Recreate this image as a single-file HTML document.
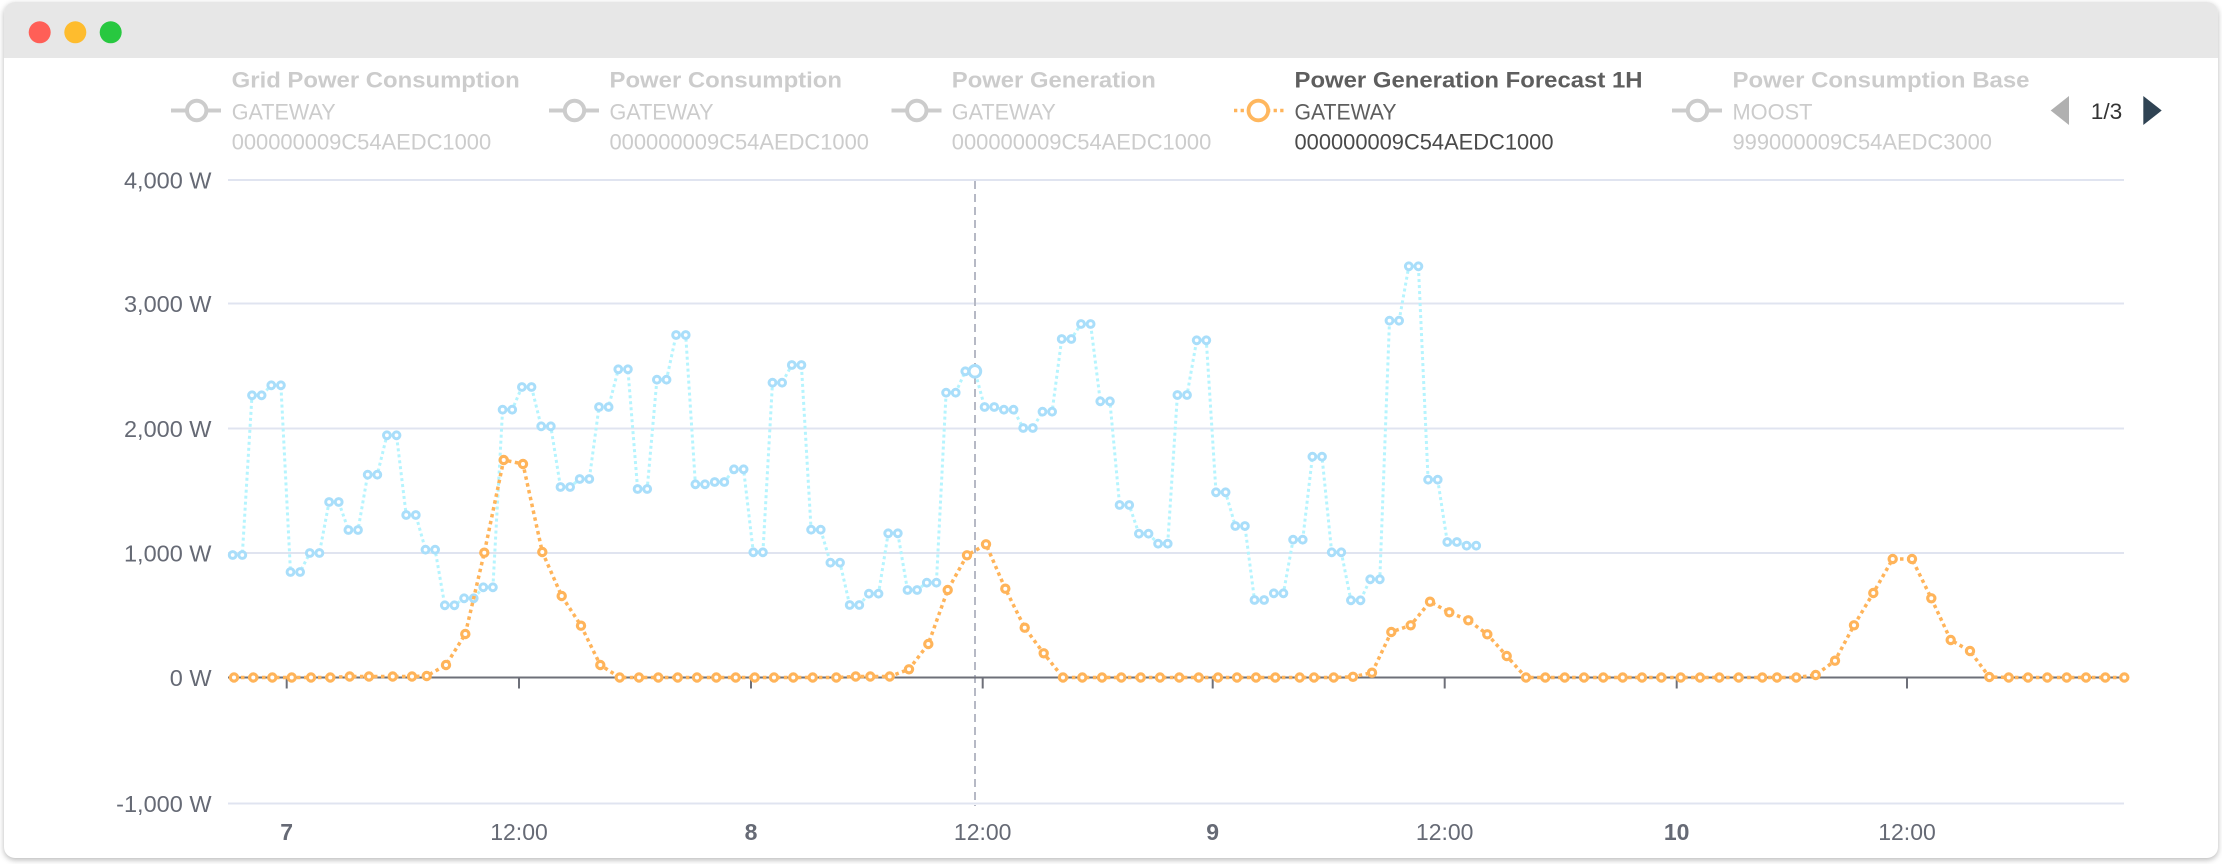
<!DOCTYPE html>
<html>
<head>
<meta charset="utf-8">
<style>
  html,body{margin:0;padding:0;background:#ffffff;}
  body{width:2222px;height:864px;position:relative;overflow:hidden;font-family:"Liberation Sans",Arial,sans-serif;}
  .win{position:absolute;left:4px;top:2px;width:2214px;height:856px;border-radius:11px;background:#fff;box-shadow:0 2px 6px rgba(0,0,0,0.28);overflow:hidden;}
  .bar{position:absolute;left:0;top:0;width:100%;height:56px;background:#e7e7e7;}
  svg{position:absolute;left:0;top:0;}
</style>
</head>
<body>
<div class="win"><div class="bar"></div></div>
<svg width="2222" height="864" viewBox="0 0 2222 864" xmlns="http://www.w3.org/2000/svg">
  <defs>
    <marker id="mb" markerWidth="16" markerHeight="16" refX="8" refY="8" markerUnits="userSpaceOnUse">
      <circle cx="8" cy="8" r="3.4" fill="#ffffff" stroke="#a9defa" stroke-width="3"/>
    </marker>
    <marker id="mo" markerWidth="16" markerHeight="16" refX="8" refY="8" markerUnits="userSpaceOnUse">
      <circle cx="8" cy="8" r="3.6" fill="#ffffff" stroke="#ffb45a" stroke-width="3.2"/>
    </marker>
  </defs>

  <!-- traffic lights -->
  <circle cx="39.7" cy="32.3" r="11" fill="#ff5f57"/>
  <circle cx="75.3" cy="32.3" r="11" fill="#febc2e"/>
  <circle cx="110.7" cy="32.3" r="11" fill="#28c840"/>

  <!-- legend -->
  <g font-family="Liberation Sans, Arial, sans-serif" font-size="22">
    <!-- item 1 -->
    <line x1="171" y1="110.5" x2="221" y2="110.5" stroke="#cccccc" stroke-width="4"/>
    <circle cx="196.7" cy="110.5" r="9.7" fill="#fff" stroke="#cccccc" stroke-width="4"/>
    <text x="231.7" y="87.5" font-weight="bold" fill="#cccccc" textLength="288" lengthAdjust="spacingAndGlyphs">Grid Power Consumption</text>
    <text x="231.7" y="119.3" fill="#cccccc" textLength="104" lengthAdjust="spacingAndGlyphs">GATEWAY</text>
    <text x="231.7" y="149.5" fill="#cccccc" textLength="259.5" lengthAdjust="spacingAndGlyphs">000000009C54AEDC1000</text>
    <!-- item 2 -->
    <line x1="549" y1="110.5" x2="599" y2="110.5" stroke="#cccccc" stroke-width="4"/>
    <circle cx="574.5" cy="110.5" r="9.7" fill="#fff" stroke="#cccccc" stroke-width="4"/>
    <text x="609.5" y="87.5" font-weight="bold" fill="#cccccc" textLength="232.5" lengthAdjust="spacingAndGlyphs">Power Consumption</text>
    <text x="609.5" y="119.3" fill="#cccccc" textLength="104" lengthAdjust="spacingAndGlyphs">GATEWAY</text>
    <text x="609.5" y="149.5" fill="#cccccc" textLength="259.5" lengthAdjust="spacingAndGlyphs">000000009C54AEDC1000</text>
    <!-- item 3 -->
    <line x1="891.5" y1="110.5" x2="941.5" y2="110.5" stroke="#cccccc" stroke-width="4"/>
    <circle cx="916.8" cy="110.5" r="9.7" fill="#fff" stroke="#cccccc" stroke-width="4"/>
    <text x="951.8" y="87.5" font-weight="bold" fill="#cccccc" textLength="204" lengthAdjust="spacingAndGlyphs">Power Generation</text>
    <text x="951.8" y="119.3" fill="#cccccc" textLength="104" lengthAdjust="spacingAndGlyphs">GATEWAY</text>
    <text x="951.8" y="149.5" fill="#cccccc" textLength="259.5" lengthAdjust="spacingAndGlyphs">000000009C54AEDC1000</text>
    <!-- item 4 (active) -->
    <line x1="1234" y1="110.5" x2="1283.5" y2="110.5" stroke="#ffb45a" stroke-width="3.5" stroke-dasharray="3.3 3.3"/>
    <circle cx="1258.3" cy="110.5" r="9.8" fill="#fff" stroke="#ffb75e" stroke-width="3.8"/>
    <text x="1294.5" y="87.5" font-weight="bold" fill="#5e5e5e" textLength="348" lengthAdjust="spacingAndGlyphs">Power Generation Forecast 1H</text>
    <text x="1294.5" y="119.3" fill="#5e5e5e" textLength="102" lengthAdjust="spacingAndGlyphs">GATEWAY</text>
    <text x="1294.5" y="149.5" fill="#4a4a4a" textLength="259" lengthAdjust="spacingAndGlyphs">000000009C54AEDC1000</text>
    <!-- item 5 -->
    <line x1="1672" y1="110.5" x2="1722" y2="110.5" stroke="#cccccc" stroke-width="4"/>
    <circle cx="1697.5" cy="110.5" r="9.7" fill="#fff" stroke="#cccccc" stroke-width="4"/>
    <text x="1732.5" y="87.5" font-weight="bold" fill="#cccccc" textLength="297" lengthAdjust="spacingAndGlyphs">Power Consumption Base</text>
    <text x="1732.5" y="119.3" fill="#cccccc" textLength="80" lengthAdjust="spacingAndGlyphs">MOOST</text>
    <text x="1732.5" y="149.5" fill="#cccccc" textLength="259.5" lengthAdjust="spacingAndGlyphs">999000009C54AEDC3000</text>
    <!-- pagination -->
    <polygon points="2050.7,110.5 2069,96 2069,125" fill="#b0b0b0"/>
    <text x="2090.7" y="119" fill="#333333" font-size="22.5" textLength="31.6" lengthAdjust="spacingAndGlyphs">1/3</text>
    <polygon points="2143.3,96 2143.3,125 2161.7,110.5" fill="#2f4353"/>
  </g>

  <!-- grid -->
  <g stroke="#e0e4f0" stroke-width="2">
    <line x1="228" y1="180" x2="2124" y2="180"/>
    <line x1="228" y1="303.5" x2="2124" y2="303.5"/>
    <line x1="228" y1="428.5" x2="2124" y2="428.5"/>
    <line x1="228" y1="553" x2="2124" y2="553"/>
    <line x1="228" y1="803.5" x2="2124" y2="803.5"/>
  </g>

  <!-- y labels -->
  <g font-family="Liberation Sans, Arial, sans-serif" font-size="23.5" fill="#666a75" text-anchor="end">
    <text x="211.5" y="188.4">4,000 W</text>
    <text x="211.5" y="311.9">3,000 W</text>
    <text x="211.5" y="436.9">2,000 W</text>
    <text x="211.5" y="561.4">1,000 W</text>
    <text x="211.5" y="685.9">0 W</text>
    <text x="211.5" y="811.9">-1,000 W</text>
  </g>

  <!-- crosshair -->
  <line x1="975" y1="181" x2="975" y2="806" stroke="#b6b9c5" stroke-width="2" stroke-dasharray="8 5"/>

  <!-- zero axis + ticks -->
  <line x1="228" y1="677.5" x2="2124" y2="677.5" stroke="#6e7079" stroke-width="2"/>
  <g stroke="#6e7079" stroke-width="2">
    <line x1="286.7" y1="677.5" x2="688" y2="688" transform="translate(0,0)" style="display:none"/>
    <line x1="286.7" y1="677.5" x2="286.7" y2="688.5"/>
    <line x1="519" y1="677.5" x2="519" y2="688.5"/>
    <line x1="751" y1="677.5" x2="751" y2="688.5"/>
    <line x1="982.7" y1="677.5" x2="982.7" y2="688.5"/>
    <line x1="1212.7" y1="677.5" x2="1212.7" y2="688.5"/>
    <line x1="1444.7" y1="677.5" x2="1444.7" y2="688.5"/>
    <line x1="1676.7" y1="677.5" x2="1676.7" y2="688.5"/>
    <line x1="1907" y1="677.5" x2="1907" y2="688.5"/>
  </g>

  <!-- x labels -->
  <g font-family="Liberation Sans, Arial, sans-serif" font-size="23" fill="#666a75" text-anchor="middle">
    <text x="286.7" y="840" font-weight="bold">7</text>
    <text x="519" y="840">12:00</text>
    <text x="751" y="840" font-weight="bold">8</text>
    <text x="982.7" y="840">12:00</text>
    <text x="1212.7" y="840" font-weight="bold">9</text>
    <text x="1444.7" y="840">12:00</text>
    <text x="1676.7" y="840" font-weight="bold">10</text>
    <text x="1907" y="840">12:00</text>
  </g>

  <!-- blue series -->
  <polyline fill="none" stroke="#b5f4fe" stroke-width="3" stroke-dasharray="3 3"
    marker-start="url(#mb)" marker-mid="url(#mb)" marker-end="url(#mb)"
    points="232.7,555 242.3,555 252,395.3 261.6,395.3 271.3,385.3 280.9,385.3 290.5,572 300.1,572 309.8,553 319.4,553 329.1,502 338.7,502 348.4,530 358,530 367.7,474.7 377.3,474.7 386.9,435.3 396.5,435.3 406.2,515 415.8,515 425.5,549.7 435.1,549.7 444.8,605.3 454.4,605.3 464.1,598.3 473.7,598.3 483.3,587.3 492.9,587.3 502.6,409.7 512.2,409.7 521.9,387 531.5,387 541.2,426.3 550.8,426.3 560.5,487 570.1,487 579.7,479 589.3,479 599,407 608.6,407 618.3,369.3 627.9,369.3 637.6,489 647.2,489 656.9,379.7 666.5,379.7 676.1,335 685.7,335 695.4,484.3 705,484.3 714.7,482 724.3,482 734,469.3 743.6,469.3 753.3,552.3 762.9,552.3 772.5,382.7 782.1,382.7 791.8,365 801.4,365 811.1,529.7 820.7,529.7 830.4,562.7 840,562.7 849.7,605 859.3,605 868.9,593.7 878.5,593.7 888.2,533.3 897.8,533.3 907.5,590 917.1,590 926.8,582.7 936.4,582.7 946.1,392.7 955.7,392.7 965.3,371.3 974.9,371.3 984.6,407 994.2,407 1003.9,409.7 1013.5,409.7 1023.2,428 1032.8,428 1042.5,411.7 1052.1,411.7 1061.7,339 1071.3,339 1081,324 1090.6,324 1100.3,401.3 1109.9,401.3 1119.6,505 1129.2,505 1138.9,533.7 1148.5,533.7 1158.1,543.7 1167.7,543.7 1177.4,395 1187,395 1196.7,340.3 1206.3,340.3 1216,492.3 1225.6,492.3 1235.3,526 1244.9,526 1254.5,600 1264.1,600 1273.8,593.3 1283.4,593.3 1293.1,539.7 1302.7,539.7 1312.4,456.7 1322,456.7 1331.7,552.3 1341.3,552.3 1350.9,600.3 1360.5,600.3 1370.2,579.3 1379.8,579.3 1389.5,320.7 1399.1,320.7 1408.8,266.3 1418.4,266.3 1428.1,479.7 1437.7,479.7 1447.3,542 1456.9,542 1466.6,545.7 1476.2,545.7"/>
  <circle cx="974.9" cy="371.3" r="5.8" fill="#ffffff" stroke="#a9defa" stroke-width="3"/>

  <!-- orange series -->
  <polyline fill="none" stroke="#ffb45a" stroke-width="3.5" stroke-dasharray="3.5 3.5"
    marker-start="url(#mo)" marker-mid="url(#mo)" marker-end="url(#mo)"
    points="234,677.5 253.3,677.5 272.3,677.5 291.7,677.5 311,677.5 330.3,677.5 349.7,676.5 369,676.5 392.7,676.5 412,676.5 426.7,676 446,665 465.3,634 484.3,552.7 503.7,460 523,464 542.3,552 561.7,596 581,625.7 600.3,665 619.7,677.5 639,677.5 658.3,677.5 677.7,677.5 697,677.5 716.3,677.5 735.7,677.5 754.7,677.5 774,677.5 793.3,677.5 812.7,677.5 836.3,677.5 855.7,676.5 870.3,676.5 889.7,676.5 909,669.3 928.3,644 947.7,590 967,555.3 986,544.3 1005.3,588.7 1024.7,627.7 1043.7,653.3 1063,677.5 1082.3,677.5 1102,677.5 1121.3,677.5 1140.7,677.5 1160,677.5 1179.3,677.5 1198.7,677.5 1218,677.5 1237,677.5 1256,677.5 1275.3,677.5 1299.7,677.5 1314,677.5 1333.7,677.5 1353,676.8 1372,672.7 1391.3,632 1410.7,625.3 1430,601.7 1449.3,612.3 1468.3,620.3 1487.3,634.3 1506.7,656 1526,677.5 1545.3,677.5 1564.7,677.5 1584,677.5 1603.3,677.5 1622.7,677.5 1642,677.5 1661.3,677.5 1680.7,677.5 1700,677.5 1719.3,677.5 1738.7,677.5 1762.3,677.5 1777,677.5 1796.3,677.5 1815.7,675 1835,660.7 1854,625.3 1873.3,593 1892.7,559 1912,559 1931.3,598.3 1950.7,640 1970,651 1989.3,677 2008.7,677.5 2028,677.5 2047.3,677.5 2066.7,677.5 2086,677.5 2105.3,677.5 2124.3,677.5"/>
</svg>
</body>
</html>
